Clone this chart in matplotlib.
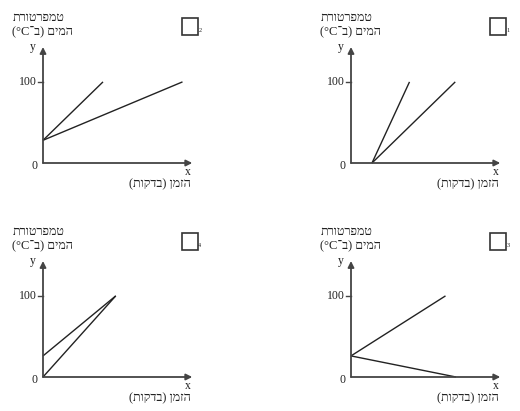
import re

import matplotlib

matplotlib.use("Agg")
import matplotlib.pyplot as plt
from matplotlib.patches import Rectangle

# four small sketch graphs: water temperature vs. time
PANEL_IDS = ["2", "1", "4", "3"]            # order: top-left, top-right, bottom-left, bottom-right
Y_LABEL = ["טמפרטורת", "המים (ב־°C)"]
X_LABEL = "הזמן (בדקות)"
Y_TICK = 100

# each panel: list of segments ((x0, y0), (x1, y1)) in (time units, °C)
LINES_2 = [((0, 28), (4.0, 100)), ((0, 28), (9.3, 100))]
LINES_1 = [((1.4, 0), (3.9, 100)), ((1.4, 0), (6.95, 100))]
LINES_4 = [((0, 0), (4.85, 100)), ((0, 26), (4.85, 100))]
LINES_3 = [((0, 26), (6.3, 100)), ((0, 26), (7.0, 0))]

INK = "#222222"
AXIS = "#444444"
HEB = ["Liberation Serif", "DejaVu Sans"]


def vis(s):
    # matplotlib has no bidi: flip to visual order, mirror parens, keep latin runs LTR
    r = s[::-1].translate(str.maketrans("()", ")("))
    return re.sub(r"[A-Za-z0-9°]+", lambda m: m.group(0)[::-1], r)


def txt(ax, s, dx, dy, **kw):
    # dx, dy in pixels from the axes origin, dy measured downwards
    ax.annotate(s, (0, 0), xytext=(dx, -dy), textcoords="offset pixels",
                ha=kw.pop("ha", "center"), va=kw.pop("va", "center"),
                color=INK, annotation_clip=False, **kw)


def panel(ax, lines, pid):
    ax.set_xlim(0, 10)
    ax.set_ylim(0, 143)
    ax.axis("off")
    arrow = dict(arrowstyle="-|>", color=AXIS, lw=1.3, mutation_scale=9, shrinkA=0, shrinkB=0)
    ax.annotate("", xy=(9.95, 0), xytext=(0, 0), arrowprops=arrow, annotation_clip=False)
    ax.annotate("", xy=(0, 143), xytext=(0, 0), arrowprops=arrow, annotation_clip=False)
    for (x0, y0), (x1, y1) in lines:
        ax.plot([x0, x1], [y0, y1], color=INK, lw=1.0, clip_on=False,
                solid_capstyle="butt")
    # tick at 100
    ax.plot([-0.33, 0], [Y_TICK, Y_TICK], color=AXIS, lw=1.0, clip_on=False)
    ax.annotate(str(Y_TICK), (0, Y_TICK), xytext=(-6, 0), textcoords="offset pixels",
                ha="right", va="center", fontsize=8.5, family="Liberation Serif",
                color=INK, annotation_clip=False)
    txt(ax, "0", -8, 3, fontsize=8.5, family="Liberation Serif")
    txt(ax, "y", -10, -116, fontsize=8.5, family="Liberation Serif")
    txt(ax, "x", 145, 9, fontsize=8.5, family="Liberation Serif")
    txt(ax, vis(Y_LABEL[0]), -4, -145, fontsize=9, family=HEB)
    txt(ax, vis(Y_LABEL[1]), -1, -131, fontsize=9, family=HEB)
    txt(ax, vis(X_LABEL), 117, 21, fontsize=9, family=HEB)
    # answer box with its number
    fig = ax.figure
    ox, oy = ax.transData.transform((0, 0))
    bw, bh = 16, 17
    fig.patches.append(Rectangle((ox + 138.5, oy + 127.5), bw, bh, transform=None,
                                 fill=False, ec="#333333", lw=1.2))
    txt(ax, pid, 157, -132, fontsize=4.5, family="Liberation Serif")


fig = plt.figure(figsize=(5.2, 4.11), dpi=100)
W, H = 520, 411
origins = [(43, 163), (351, 163), (43, 377), (351, 377)]
all_lines = [LINES_2, LINES_1, LINES_4, LINES_3]
for (ox, oy), lines, pid in zip(origins, all_lines, PANEL_IDS):
    ax = fig.add_axes([ox / W, (H - oy) / H, 150 / W, 116 / H])
    panel(ax, lines, pid)

fig.savefig("out.png", dpi=100, facecolor="white")
